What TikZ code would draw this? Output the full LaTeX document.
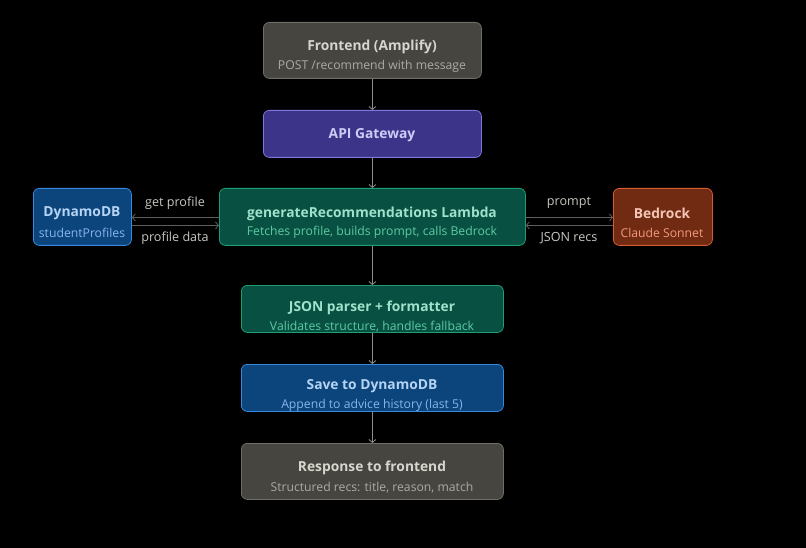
\documentclass[tikz,border=0pt]{standalone}
\usepackage{fontspec}
\setmainfont{Open Sans}
\usetikzlibrary{arrows.meta}
\definecolor{bg}{HTML}{000000}
\definecolor{grayfill}{HTML}{46453F}
\definecolor{grayline}{HTML}{6E6D66}
\definecolor{graytitle}{HTML}{D6D5CE}
\definecolor{graysub}{HTML}{ABAAA3}
\definecolor{purfill}{HTML}{3C3489}
\definecolor{purline}{HTML}{7F77DD}
\definecolor{purtitle}{HTML}{CECBF6}
\definecolor{bluefill}{HTML}{0C447C}
\definecolor{blueline}{HTML}{378ADD}
\definecolor{bluetitle}{HTML}{B5D4F4}
\definecolor{bluesub}{HTML}{85B7EB}
\definecolor{greenfill}{HTML}{085041}
\definecolor{greenline}{HTML}{1D9E75}
\definecolor{greentitle}{HTML}{9FE1CB}
\definecolor{greensub}{HTML}{5DCAA5}
\definecolor{redfill}{HTML}{712B13}
\definecolor{redline}{HTML}{D85A30}
\definecolor{redtitle}{HTML}{F5C4B3}
\definecolor{redsub}{HTML}{F0997B}
\definecolor{arrowc}{HTML}{8C8C88}
\definecolor{harrowc}{HTML}{5E5E5B}
\definecolor{labelc}{HTML}{C8C7C0}
\tikzset{
  box/.style={draw, line width=0.8pt, rounded corners=6pt, inner sep=0pt},
  graybox/.style={box, fill=grayfill, draw=grayline},
  purbox/.style={box, fill=purfill, draw=purline},
  bluebox/.style={box, fill=bluefill, draw=blueline},
  greenbox/.style={box, fill=greenfill, draw=greenline},
  redbox/.style={box, fill=redfill, draw=redline},
  ttl/.style={inner sep=0pt, font=\fontsize{13.8}{15}\selectfont\bfseries},
  sub/.style={inner sep=0pt, font=\fontsize{12.2}{14}\selectfont},
  lbl/.style={inner sep=0pt, text=labelc, font=\fontsize{12.6}{14}\selectfont},
  varrow/.style={draw=arrowc, line width=0.8pt, -{Straight Barb[length=3pt,width=7pt]}},
  harrow/.style={draw=harrowc, line width=0.8pt, -{Straight Barb[length=3pt,width=7pt]}}
}
\begin{document}
\begin{tikzpicture}[x=1pt,y=-1pt]
\fill[bg] (0,0) rectangle (806,548);
\useasboundingbox (0,0) rectangle (806,548);
% boxes
\node[graybox, minimum width=218pt, minimum height=56pt, anchor=north west] (fe) at (263,22) {};
\node[purbox, minimum width=218pt, minimum height=47pt, anchor=north west] (api) at (263,110) {};
\node[bluebox, minimum width=98pt, minimum height=57pt, anchor=north west] (ddb) at (33,188) {};
\node[greenbox, minimum width=306pt, minimum height=57pt, anchor=north west] (lam) at (219,188) {};
\node[redbox, minimum width=99pt, minimum height=57pt, anchor=north west] (bed) at (613,188) {};
\node[greenbox, minimum width=262pt, minimum height=47pt, anchor=north west] (json) at (241,285) {};
\node[bluebox, minimum width=262pt, minimum height=47pt, anchor=north west] (save) at (241,364) {};
\node[graybox, minimum width=262pt, minimum height=56pt, anchor=north west] (resp) at (241,443) {};
% texts
\node[ttl, text=graytitle] (fet) at (372,46.5) {Frontend (Amplify)};
\node[sub, text=graysub] (fes) at (372,66.5) {POST /recommend with message};
\node[ttl, text=purtitle] (apit) at (372,135.5) {API Gateway};
\node[ttl, text=bluetitle] (ddbt) at (82,213.5) {DynamoDB};
\node[sub, text=bluesub] (ddbs) at (82,232.5) {studentProfiles};
\node[ttl, text=greentitle] (lamt) at (372,213.5) {generateRecommendations Lambda};
\node[sub, text=greensub] (lams) at (372,232.5) {Fetches profile, builds prompt, calls Bedrock};
\node[ttl, text=redtitle] (bedt) at (662,213.5) {Bedrock};
\node[sub, text=redsub] (beds) at (662,232.5) {Claude Sonnet};
\node[ttl, text=greentitle] (jsont) at (372,307.5) {JSON parser + formatter};
\node[sub, text=greensub] (jsons) at (372,326.5) {Validates structure, handles fallback};
\node[ttl, text=bluetitle] (savet) at (372,386.5) {Save to DynamoDB};
\node[sub, text=bluesub] (saves) at (372,405.5) {Append to advice history (last 5)};
\node[ttl, text=graytitle] (respt) at (372,467.5) {Response to frontend};
\node[sub, text=graysub] (resps) at (372,487.5) {Structured recs: title, reason, match};
% labels
\node[lbl] (l1) at (175,203) {get profile};
\node[lbl] (l2) at (175,238) {profile data};
\node[lbl] (l3) at (569,203) {prompt};
\node[lbl] (l4) at (569,238) {JSON recs};
% vertical arrows
\draw[varrow] (fe.south) -- (api.north);
\draw[varrow] (api.south) -- (lam.north);
\draw[varrow] (lam.south) -- (json.north);
\draw[varrow] (json.south) -- (save.north);
\draw[varrow] (save.south) -- (resp.north);
% horizontal arrows
\draw[harrow] ([yshift=-0.5pt]lam.west) -- ([yshift=-0.5pt]ddb.east);
\draw[harrow] ([yshift=-8.5pt]ddb.east) -- ([yshift=-8.5pt]lam.west);
\draw[harrow] ([yshift=-0.5pt]lam.east) -- ([yshift=-0.5pt]bed.west);
\draw[harrow] ([yshift=-8.5pt]bed.west) -- ([yshift=-8.5pt]lam.east);
\end{tikzpicture}
\end{document}
